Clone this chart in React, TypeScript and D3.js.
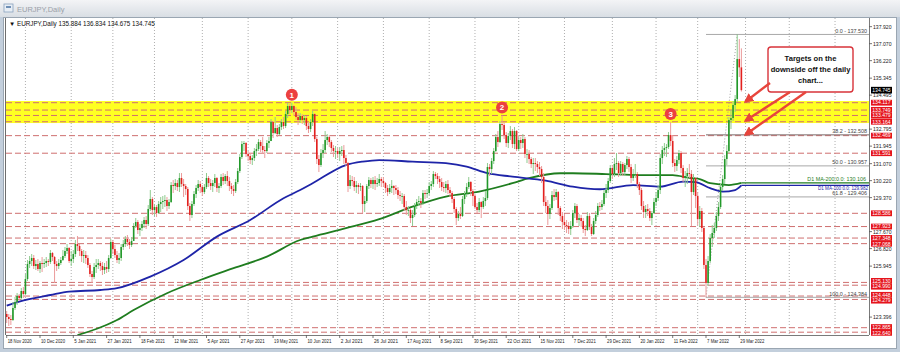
import React from 'react';
import * as d3 from 'd3';

// ---------- DATA ----------
const FIRST_DAY = '2020-11-18';
const HOLIDAYS = ['2020-12-25', '2021-01-01'];
const FIRST_OPEN = 123.55;

const closes = [
  // Nov 2020
  123.40,123.30,123.25,123.85,124.15,124.45,124.35,124.70,124.55,
  // Dec 2020
  125.30,126.05,126.20,126.35,125.95,126.05,125.80,126.10,126.05,126.10,126.20,126.15,126.60,126.40,126.05,125.95,126.10,126.25,126.45,126.70,126.85,126.20,
  // Jan 2021
  126.30,126.55,127.05,126.95,126.70,126.45,126.50,126.35,126.00,125.55,125.40,125.90,126.00,126.10,125.95,125.75,125.90,125.80,126.35,127.15,
  // Feb 2021
  126.80,126.50,126.25,126.35,126.90,127.05,127.30,127.15,127.00,127.20,127.95,128.15,127.75,127.85,128.05,128.25,128.05,128.80,129.30,128.75,
  // Mar 2021
  128.90,128.60,129.05,129.15,129.20,129.25,128.95,129.15,130.00,129.95,130.10,129.90,130.35,130.05,129.95,129.80,128.95,128.50,129.05,129.55,129.85,130.05,129.90,
  // Apr 2021
  129.65,129.90,130.35,130.10,129.95,130.10,130.35,129.85,129.95,130.40,130.20,130.45,130.20,129.95,129.80,129.70,130.15,130.70,131.40,132.05,132.10,131.55,
  // May 2021
  131.45,131.25,131.35,131.70,131.80,132.15,131.95,131.75,131.70,132.10,132.20,133.15,132.60,132.85,132.55,132.90,133.15,132.95,133.55,133.95,133.75,
  // Jun 2021
  133.95,133.65,133.40,133.25,133.45,133.25,133.35,132.95,132.80,133.15,133.55,132.30,131.30,131.00,131.60,131.75,132.25,132.40,132.15,131.85,131.70,131.70,
  // Jul 2021
  131.55,131.70,131.75,131.35,131.10,129.95,130.25,130.20,129.90,130.00,129.90,129.95,129.05,129.20,129.95,130.25,130.05,130.25,130.05,130.10,130.30,130.20,
  // Aug 2021
  130.10,129.85,129.65,129.85,129.95,129.85,129.75,129.50,129.45,129.45,128.90,128.75,128.75,128.35,128.50,128.95,129.15,129.20,129.10,129.60,129.55,129.60,
  // Sep 2021
  129.95,130.05,130.55,130.45,130.30,130.15,129.90,129.85,130.05,129.75,129.60,129.30,128.80,128.35,128.55,128.45,129.30,129.55,129.90,130.15,129.70,129.45,
  // Oct 2021
  128.90,128.75,129.15,128.90,129.20,129.35,130.90,130.80,131.20,131.70,132.40,132.15,133.05,133.00,132.50,132.10,132.45,132.70,132.05,132.70,131.80,
  // Nov 2021
  132.25,132.10,132.30,131.55,131.55,131.30,131.05,131.10,131.05,130.90,130.80,130.40,129.15,128.95,128.55,128.85,129.50,129.40,129.65,128.85,128.45,128.15,
  // Dec 2021
  128.00,127.95,127.80,127.95,128.60,128.95,128.25,128.35,128.20,127.80,127.75,128.45,127.90,127.55,128.20,128.50,128.95,128.90,129.05,129.60,129.75,130.20,130.85,
  // Jan 2022
  130.55,131.05,131.10,130.60,131.05,130.65,131.00,131.30,130.90,130.35,130.55,130.55,130.05,129.75,128.95,128.65,128.80,128.70,128.35,128.60,129.15,
  // Feb 2022
  129.35,129.75,131.35,131.75,131.85,131.90,132.50,132.20,131.10,130.95,131.25,131.60,130.85,130.35,130.45,130.60,130.55,129.65,130.35,129.45,
  // Mar 2022
  128.30,128.70,127.85,126.00,125.10,126.20,127.35,127.60,127.85,128.45,128.90,129.90,130.30,131.30,131.70,133.25,133.35,134.00,134.30,136.30,135.884,134.745,
];

const highs = [
  123.70,123.55,123.50,124.15,124.40,124.60,124.55,124.85,124.90,
  125.55,126.25,126.45,126.55,126.50,126.25,126.30,126.20,126.40,126.30,126.40,126.30,126.75,126.65,126.45,126.20,126.30,126.40,126.75,126.90,127.05,126.90,
  126.70,126.75,127.25,127.45,127.05,126.80,126.75,126.70,126.50,126.10,125.70,126.10,126.30,126.30,126.20,126.15,126.10,126.20,126.50,127.30,
  127.25,127.00,126.70,126.60,127.05,127.25,127.45,127.50,127.30,127.40,128.10,128.35,128.25,128.05,128.20,128.40,128.45,129.00,129.75,129.40,
  129.05,129.00,129.20,129.40,129.45,129.50,129.40,129.30,130.15,130.25,130.30,130.25,130.60,130.60,130.30,130.05,129.90,129.10,129.20,129.70,130.00,130.25,130.20,
  130.00,130.05,130.60,130.45,130.30,130.25,130.55,130.40,130.10,130.55,130.60,130.55,130.70,130.40,130.10,130.00,130.30,130.85,131.55,132.20,132.20,132.15,
  131.70,131.60,131.50,131.85,132.05,132.30,132.25,132.40,131.95,132.25,132.40,133.30,133.20,133.40,133.00,133.05,133.30,133.40,133.70,134.10,134.05,
  134.12,134.00,133.90,133.60,133.60,133.55,133.50,133.45,133.15,133.30,133.70,133.60,132.40,131.50,131.80,132.05,132.70,132.55,132.50,132.25,132.00,131.95,
  131.85,131.90,131.95,132.00,131.50,131.15,130.50,130.45,130.40,130.20,130.10,130.10,130.00,129.45,130.05,130.40,130.35,130.40,130.45,130.35,130.55,130.40,
  130.40,130.15,130.00,130.05,130.25,130.00,130.00,129.90,129.70,129.60,129.55,129.20,128.95,128.85,128.75,129.10,129.30,129.45,129.35,129.75,129.75,129.80,
  130.15,130.20,130.70,130.65,130.60,130.45,130.35,130.15,130.20,130.25,129.90,129.70,129.40,128.90,128.70,128.90,129.45,129.70,130.10,130.40,130.20,129.80,
  129.55,129.10,129.35,129.20,129.40,129.70,131.10,131.05,131.35,131.85,132.55,132.70,133.20,133.48,133.15,132.65,132.60,132.95,132.80,132.90,132.75,
  132.45,132.40,132.55,132.40,131.80,131.75,131.40,131.35,131.35,131.20,131.15,130.95,130.60,129.45,129.25,129.05,129.70,129.80,129.80,129.70,128.95,128.65,
  128.55,128.25,128.15,128.20,128.75,129.10,129.05,128.55,128.50,128.35,128.00,128.65,128.60,128.05,128.35,128.70,129.10,129.15,129.25,129.75,130.05,130.35,131.00,
  131.00,131.35,131.60,131.20,131.20,131.15,131.10,131.45,131.40,131.05,130.80,131.05,130.65,130.15,129.85,129.20,129.00,129.05,128.85,128.70,129.35,
  129.65,130.00,131.55,131.95,132.10,132.05,132.65,133.15,132.50,131.30,131.45,131.75,131.70,131.00,130.70,130.85,131.05,130.75,130.55,130.40,
  129.65,128.95,128.85,127.90,126.30,126.45,127.55,128.00,128.10,128.65,129.15,130.10,130.50,131.50,132.00,133.40,133.75,134.20,134.50,137.53,137.30,136.834,
];

const lows = [
  123.10,122.95,123.00,123.20,123.75,124.00,124.20,124.25,124.35,
  124.50,125.20,125.85,125.95,125.80,125.75,125.70,125.60,125.65,125.85,125.90,125.95,126.05,126.20,125.10,125.70,125.80,126.00,126.20,126.35,126.55,126.10,
  125.95,126.10,126.40,126.70,126.45,126.15,126.10,126.05,125.85,125.40,125.10,125.30,125.60,125.80,125.70,125.50,125.55,125.60,125.65,126.30,
  126.55,126.35,126.10,126.05,126.20,126.75,126.90,126.95,126.80,126.90,127.20,127.85,127.55,127.45,127.70,127.85,127.80,127.95,128.70,128.50,
  128.45,128.40,128.55,128.65,128.80,128.90,128.70,128.80,129.10,129.60,129.75,129.70,129.65,129.90,129.40,129.50,128.75,128.20,128.35,128.95,129.35,129.70,129.60,
  129.45,129.55,129.80,129.90,129.75,129.65,129.90,129.65,129.60,129.85,130.00,130.05,129.95,129.70,129.55,129.45,129.60,130.05,130.60,131.30,131.70,131.40,
  131.20,131.05,131.00,131.20,131.45,131.70,131.65,131.55,131.35,131.60,131.85,132.20,132.35,132.55,132.40,132.50,132.75,132.80,132.85,133.35,133.55,
  133.60,133.45,133.25,133.00,133.10,133.05,133.00,132.75,132.60,132.65,132.95,132.15,131.05,130.65,130.90,131.35,131.60,132.00,131.90,131.65,131.40,131.30,
  131.35,131.20,131.45,131.05,130.95,129.65,129.80,129.95,129.70,129.60,129.55,129.70,128.60,128.65,129.10,129.80,129.85,129.80,129.75,129.90,129.95,129.90,
  129.90,129.60,129.45,129.55,129.60,129.50,129.55,129.30,129.20,129.05,128.70,128.50,128.45,128.10,127.95,128.40,128.80,128.95,128.85,129.00,129.30,129.35,
  129.50,129.75,129.90,130.30,130.05,129.85,129.70,129.65,129.60,129.55,129.40,129.10,128.60,128.00,128.20,128.30,128.40,129.05,129.40,129.80,129.45,128.95,
  128.80,128.60,128.65,128.35,128.80,128.95,129.25,130.45,130.55,131.05,131.65,131.90,132.10,132.75,132.30,131.90,131.85,132.25,131.85,131.80,131.70,
  131.70,131.80,131.85,131.35,131.10,131.05,130.85,130.55,130.70,130.60,130.45,130.10,128.95,128.60,128.00,128.30,128.75,129.20,129.25,128.50,128.20,127.80,
  127.75,127.60,127.55,127.50,127.85,128.35,128.10,127.95,127.90,127.60,127.45,127.70,127.75,127.45,127.50,128.05,128.40,128.70,128.75,128.95,129.35,129.60,130.10,
  130.30,130.40,130.75,130.40,130.45,130.45,130.45,130.80,130.65,130.10,130.20,130.35,129.85,129.50,128.75,128.35,128.35,128.45,128.20,128.00,128.55,
  128.95,129.20,129.55,131.05,131.45,131.40,131.80,131.95,130.90,130.65,130.70,131.05,130.60,130.15,129.90,130.05,130.35,127.95,129.50,128.85,
  128.00,127.90,127.65,125.80,124.384,124.95,126.10,126.90,127.35,127.70,128.20,128.80,129.70,130.05,131.00,131.60,132.80,133.20,133.65,134.15,135.40,134.675,
];

// 100-day and 200-day moving averages at these dates
const ma100Dates = ['2020-11-18','2020-11-26','2020-12-17','2020-12-31','2021-01-22','2021-02-03','2021-02-25','2021-03-19','2021-04-12','2021-05-04','2021-05-26','2021-06-07','2021-06-15','2021-07-07','2021-07-19','2021-07-29','2021-08-20','2021-09-13','2021-09-27','2021-10-11','2021-10-27','2021-11-18','2021-12-07','2021-12-24','2022-01-17','2022-02-03','2022-02-18','2022-02-28','2022-03-09','2022-03-17','2022-03-25','2022-03-30'];
const ma100Values = [123.97,124.17,124.50,124.67,124.75,124.84,125.42,126.25,127.42,128.25,129.34,129.75,130.09,131.00,131.17,131.25,131.17,131.09,130.92,130.59,130.42,130.22,129.92,129.79,130.00,129.92,130.17,130.15,129.84,129.67,129.75,129.982];
const ma200Dates = ['2021-01-07','2021-01-20','2021-02-03','2021-02-15','2021-03-09','2021-03-31','2021-04-22','2021-05-14','2021-06-07','2021-06-15','2021-07-07','2021-07-29','2021-08-20','2021-09-13','2021-10-05','2021-10-27','2021-11-08','2021-11-29','2021-12-07','2021-12-29','2022-01-20','2022-02-11','2022-02-23','2022-03-02','2022-03-09','2022-03-22','2022-03-30'];
const ma200Values = [122.50,122.80,123.25,123.75,124.59,125.25,125.84,126.42,127.25,127.42,127.84,128.29,128.92,129.42,129.67,130.09,130.34,130.59,130.59,130.55,130.50,130.50,130.36,130.30,130.09,130.00,130.106];

// visible price-scale labels (those hidden under red level tags are left out)
const priceTicks = [137.920,137.070,136.220,135.345,134.495,132.795,131.945,131.070,130.220,129.370,127.670,126.820,125.945,123.396];
const redLevels = [134.117,133.749,133.479,133.164,132.469,131.591,128.586,127.923,127.348,127.068,125.130,124.990,124.448,124.279,122.865,122.640];
const dateTicks = ['2020-11-18','2020-12-10','2021-01-05','2021-01-27','2021-02-18','2021-03-12','2021-04-05','2021-04-27','2021-05-19','2021-06-10','2021-07-02','2021-07-26','2021-08-17','2021-09-08','2021-09-30','2021-10-22','2021-11-15','2021-12-07','2021-12-29','2022-01-20','2022-02-11','2022-03-07','2022-03-29'];

const zoneTop = 134.20;
const zoneBottom = 133.10;

const fibHigh = 137.530;
const fibLow = 124.384;
const fibHighDate = '2022-03-28';
const fibLowDate = '2022-03-07';
const fibLevels = [0, 38.2, 50, 61.8, 100];

const markerDates = ['2021-06-01', '2021-10-20', '2022-02-10'];
const markerNumbers = ['1', '2', '3'];
const arrowTargets = [134.117, 133.164, 132.469];
const calloutLines = ['Targets on the', 'downside off the daily', 'chart...'];

// ---------- LAYOUT ----------
const W = 900, H = 352;
const PL = 6, PR = 869, PT = 18, PB = 335;
const FONT = 'Liberation Sans, Arial, sans-serif';

const fmtKey = d3.timeFormat('%Y-%m-%d');
const parse = d3.timeParse('%Y-%m-%d');
const fmtLabel = d3.timeFormat('%-d %b %Y');
const allDays = d3.timeDay.range(parse(FIRST_DAY) as Date, parse('2022-07-01') as Date);
const tradingDays = allDays.filter(d => d.getDay() !== 0 && d.getDay() !== 6 && !HOLIDAYS.includes(fmtKey(d)));
const dayIndex = new Map(tradingDays.map((d, i) => [fmtKey(d), i] as [string, number]));
const idx = (s: string) => dayIndex.get(s) as number;

const x = d3.scaleLinear().domain([0, 352]).range([6.7, 739.3]);
const y = d3.scaleLinear().domain([134.117, 122.865]).range([102.7, 327.7]);

const opens = closes.map((c, i) => (i === 0 ? FIRST_OPEN : closes[i - 1]));

// push overlapping axis tags apart (lines stay at the true price)
function dodge(ys: number[], gap: number): number[] {
  const order = ys.map((v, i) => i).sort((a, b) => ys[a] - ys[b]);
  const out = ys.slice();
  for (let k = 1; k < order.length; k++) {
    const a = order[k - 1], b = order[k];
    const d = out[b] - out[a];
    if (d < gap) {
      const s = (gap - d) / 2;
      out[a] -= s;
      out[b] += s;
    }
  }
  return out;
}

export default function App() {
  const last = closes.length - 1;
  const lineGen = d3.line<[number, number]>().x(d => x(d[0])).y(d => y(d[1])).curve(d3.curveMonotoneX);
  const ma100Path = lineGen(ma100Dates.map((d, i) => [idx(d), ma100Values[i]] as [number, number])) || '';
  const ma200Path = lineGen(ma200Dates.map((d, i) => [idx(d), ma200Values[i]] as [number, number])) || '';

  const monthLines: number[] = [];
  for (let i = 1; i < tradingDays.length; i++) {
    if (tradingDays[i].getMonth() !== tradingDays[i - 1].getMonth() && x(i) < PR) monthLines.push(x(i));
  }

  const fibX0 = x(idx(fibLowDate));
  const fibX1 = x(idx(fibHighDate));
  const fibPrice = (lv: number) => fibHigh - (fibHigh - fibLow) * lv / 100;

  const lastMa100 = ma100Values[ma100Values.length - 1];
  const lastMa200 = ma200Values[ma200Values.length - 1];
  const lastX = x(last);

  const box = { x: 768, y: 47, w: 85, h: 45 };
  const arrowTails: [number, number][] = [[box.x + 2, box.y + 36], [box.x + 22, box.y + 45], [box.x + 38, box.y + 45]];
  const arrowTipX = lastX + 4;

  const LBL = 5.6; // axis label font size
  const LBLW = 18.5; // width of a "137.920" style label
  const redY = dodge(redLevels.map(p => y(p)), 5.8);

  return (
    <div style={{ position: 'fixed', left: 0, top: 0, width: W, height: H }}>
      <svg width={W} height={H} style={{ display: 'block' }} fontFamily={FONT}>
        <defs>
          <linearGradient id="tb" x1="0" y1="0" x2="0" y2="1">
            <stop offset="0" stopColor="#f3f4f6" />
            <stop offset="1" stopColor="#d9dee4" />
          </linearGradient>
          <clipPath id="plot">
            <rect x={PL} y={PT} width={PR - PL} height={PB - PT} />
          </clipPath>
          <marker id="ah" viewBox="0 0 10 10" refX="8" refY="5" markerWidth="4" markerHeight="4" orient="auto">
            <path d="M0,0 L10,5 L0,10 z" fill="#e8453c" />
          </marker>
        </defs>

        {/* window frame */}
        <rect x={0} y={0} width={W} height={H} fill="#c3cfdc" />
        <rect x={0} y={0} width={W} height={17} fill="url(#tb)" />
        <rect x={4} y={4} width={9} height={8} fill="#e8eef5" stroke="#8aa2bd" strokeWidth={0.8} />
        <rect x={6} y={6} width={5} height={2} fill="#6f8fb5" />
        <text x={17} y={11.5} fontSize={7.5} fill="#9aa0a8">EURJPY,Daily</text>
        <rect x={3.5} y={17.5} width={893} height={331} fill="#ffffff" stroke="#9aa6b2" strokeWidth={1} />
        <line x1={5.5} y1={18} x2={5.5} y2={PB} stroke="#6e6e6e" strokeWidth={1} />

        <g clipPath="url(#plot)">
          {/* month grid */}
          {monthLines.map((gx, i) => (
            <line key={'g' + i} x1={gx} y1={PT} x2={gx} y2={PB} stroke="#9a9a9a" strokeWidth={0.8} strokeDasharray="1,2" />
          ))}
          {/* resistance zone */}
          <rect x={PL} y={y(zoneTop)} width={PR - PL} height={y(zoneBottom) - y(zoneTop)} fill="#ffff22" />
          {/* red levels */}
          {redLevels.map((p, i) => (
            <line key={'r' + i} x1={PL} y1={y(p)} x2={PR} y2={y(p)} stroke="#cf6f6f" strokeWidth={1} strokeDasharray="6,3" />
          ))}
          {/* fibonacci */}
          {fibLevels.map((lv, i) => (
            <line key={'f' + i} x1={fibX0} y1={y(fibPrice(lv))} x2={PR} y2={y(fibPrice(lv))} stroke={lv === 38.2 ? '#7a6a6a' : '#a8a8a8'} strokeWidth={1} />
          ))}
          <line x1={fibX0} y1={y(fibLow)} x2={fibX1} y2={y(fibHigh)} stroke="#8c8c8c" strokeWidth={0.8} strokeDasharray="1,2" />
          {/* moving averages */}
          <path d={ma200Path} fill="none" stroke="#1f7d1f" strokeWidth={1.8} />
          <path d={ma100Path} fill="none" stroke="#1e24a8" strokeWidth={1.8} />
          <line x1={lastX} y1={y(lastMa200)} x2={PR} y2={y(lastMa200)} stroke="#1f7d1f" strokeWidth={1.2} />
          <line x1={lastX} y1={y(lastMa100)} x2={PR} y2={y(lastMa100)} stroke="#1e24a8" strokeWidth={1.2} />
          {/* candles */}
          {closes.map((c, i) => {
            const o = opens[i];
            const up = c >= o;
            const cx = x(i);
            const top = y(Math.max(o, c));
            const h = Math.max(0.8, Math.abs(y(o) - y(c)));
            return (
              <g key={'c' + i}>
                <line x1={cx} y1={y(highs[i])} x2={cx} y2={y(lows[i])} stroke={up ? '#8fcb8f' : '#eb9a9a'} strokeWidth={1} />
                <rect x={cx - 0.8} y={top} width={1.6} height={h} fill={up ? '#22992a' : '#e3201e'} />
              </g>
            );
          })}
        </g>

        {/* fib labels */}
        {fibLevels.map((lv, i) => (
          <text key={'fl' + i} x={867} y={y(fibPrice(lv)) - 1.5} fontSize={5.4} fill="#444" textAnchor="end">
            {`${lv.toFixed(1)} - ${fibPrice(lv).toFixed(3)}`}
          </text>
        ))}
        <text x={866} y={y(lastMa200) - 2} fontSize={5.4} fill="#1f7d1f" textAnchor="end">{`D1 MA-200:0.0: ${lastMa200.toFixed(3)}`}</text>
        <text x={868} y={y(lastMa100) + 4.5} fontSize={4.6} fill="#1e24a8" textAnchor="end">{`D1 MA-100:0.0: ${lastMa100.toFixed(3)}`}</text>

        {/* axes */}
        <line x1={PR + 0.5} y1={PT} x2={PR + 0.5} y2={PB} stroke="#7a7a7a" strokeWidth={1} />
        <line x1={PL} y1={PB + 0.5} x2={PR} y2={PB + 0.5} stroke="#7a7a7a" strokeWidth={1} />
        {priceTicks.map((p, i) => (
          <g key={'pt' + i}>
            <line x1={PR} y1={y(p)} x2={PR + 3} y2={y(p)} stroke="#555" strokeWidth={0.8} />
            <text x={PR + 4} y={y(p)} dy="0.35em" fontSize={LBL} fill="#222" textLength={LBLW} lengthAdjust="spacingAndGlyphs">{p.toFixed(3)}</text>
          </g>
        ))}
        {redLevels.map((p, i) => (
          <g key={'rl' + i}>
            <rect x={PR + 2} y={redY[i] - 2.9} width={21} height={5.8} fill="#e5141c" />
            <text x={PR + 3.2} y={redY[i]} dy="0.35em" fontSize={5} fill="#fff" textLength={LBLW} lengthAdjust="spacingAndGlyphs">{p.toFixed(3)}</text>
          </g>
        ))}
        <rect x={PR + 2} y={y(closes[last]) - 3.3} width={21} height={6.6} fill="#000" />
        <text x={PR + 3.2} y={y(closes[last])} dy="0.35em" fontSize={5.4} fill="#fff" textLength={LBLW} lengthAdjust="spacingAndGlyphs">{closes[last].toFixed(3)}</text>

        {dateTicks.map((d, i) => {
          const dx = x(idx(d));
          const label = fmtLabel(parse(d) as Date);
          return (
            <g key={'dt' + i}>
              <line x1={dx} y1={PB} x2={dx} y2={PB + 3} stroke="#555" strokeWidth={0.8} />
              <text x={dx + 1} y={342.5} fontSize={LBL} fill="#222" textLength={label.length >= 11 ? 24 : 22} lengthAdjust="spacingAndGlyphs">{label}</text>
            </g>
          );
        })}

        {/* header */}
        <text x={9} y={26} fontSize={6.3} fill="#111">
          {`\u25BC EURJPY,Daily  ${closes[last - 1].toFixed(3)} ${highs[last].toFixed(3)} ${lows[last].toFixed(3)} ${closes[last].toFixed(3)}`}
        </text>

        {/* numbered markers */}
        {markerDates.map((d, i) => {
          const k = idx(d);
          const cx = x(k);
          const cy = y(highs[k]) - 8;
          return (
            <g key={'m' + i}>
              <circle cx={cx} cy={cy} r={6} fill="#ec4040" />
              <text x={cx} y={cy} dy="0.36em" textAnchor="middle" fontSize={8} fontWeight="bold" fill="#fff">{markerNumbers[i]}</text>
            </g>
          );
        })}

        {/* callout */}
        <rect x={box.x} y={box.y} width={box.w} height={box.h} rx={3} fill="#fff" stroke="#d8333a" strokeWidth={1.4} />
        {calloutLines.map((t, i) => (
          <text key={'ct' + i} x={box.x + box.w / 2} y={box.y + 14 + i * 11} textAnchor="middle" fontSize={7.6} fontWeight="bold" fill="#111">{t}</text>
        ))}
        {arrowTargets.map((p, i) => (
          <line key={'a' + i} x1={arrowTails[i][0]} y1={arrowTails[i][1]} x2={arrowTipX} y2={y(p) - 1} stroke="#e8453c" strokeWidth={2.4} markerEnd="url(#ah)" />
        ))}
      </svg>
    </div>
  );
}
